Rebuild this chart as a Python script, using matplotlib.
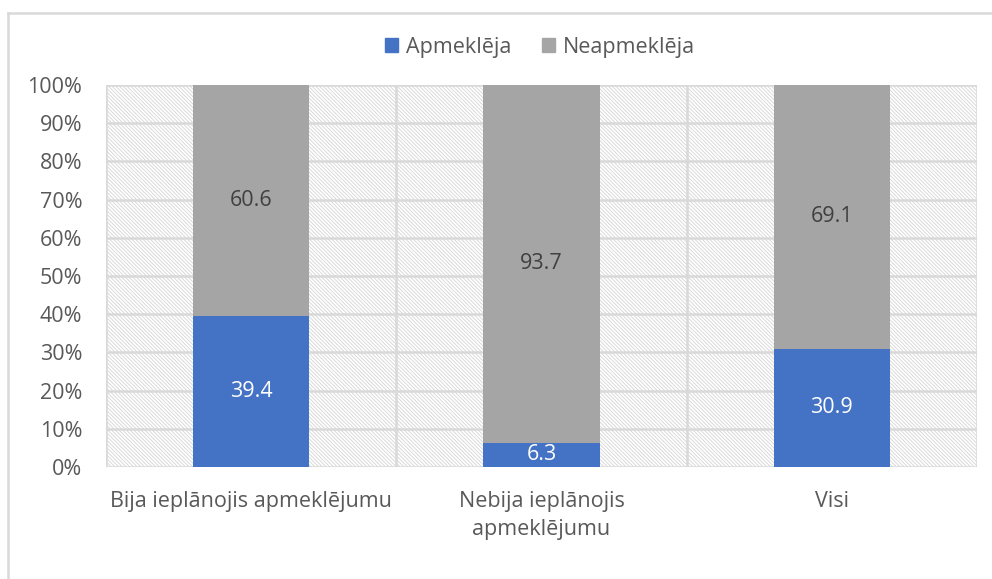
import matplotlib
matplotlib.use("Agg")
import matplotlib.pyplot as plt
from matplotlib.patches import Rectangle
from matplotlib.lines import Line2D
import numpy as np

categories = ["Bija ieplānojis apmeklējumu", "Nebija ieplānojis\napmeklējumu", "Visi"]
apmekleja = [39.4, 6.3, 30.9]
neapmekleja = [60.6, 93.7, 69.1]
series_names = ["Apmeklēja", "Neapmeklēja"]
yticks = [0, 10, 20, 30, 40, 50, 60, 70, 80, 90, 100]

plt.rcParams['font.family'] = ['Open Sans', 'DejaVu Sans']
plt.rcParams['hatch.linewidth'] = 0.6
plt.rcParams['hatch.color'] = '#d4d4d4'

BLUE = '#4472C4'
GRAY = '#A5A5A5'
TXT = '#595959'
GRID = '#d9d9d9'
FS = 15.5

fig = plt.figure(figsize=(9.92, 5.79), dpi=100)
ax = fig.add_axes([106/992, 1-467/579, (977-106)/992, (467-85)/579])

x = np.arange(len(categories))
ax.set_xlim(-0.5, len(categories) - 0.5)
ax.set_ylim(0, 100)

# hatched background
bg = Rectangle((0, 0), 1, 1, transform=ax.transAxes, facecolor='white',
               edgecolor='#d4d4d4', hatch='\\' * 9, linewidth=0, zorder=0)
ax.add_patch(bg)

# gridlines
for yv in yticks:
    ax.axhline(yv, color=GRID, lw=1.8, zorder=1)
for xv in np.arange(-0.5, len(categories), 1.0):
    ax.axvline(xv, color=GRID, lw=1.8, zorder=1)

w = 0.4
ax.bar(x, apmekleja, w, color=BLUE, zorder=3, label=series_names[0])
ax.bar(x, neapmekleja, w, bottom=apmekleja, color=GRAY, zorder=3, label=series_names[1])

for i in range(len(categories)):
    ax.text(x[i], apmekleja[i] / 2, f"{apmekleja[i]:.1f}", ha='center', va='center',
            color='white', fontsize=FS, zorder=4)
    ax.text(x[i], apmekleja[i] + neapmekleja[i] / 2, f"{neapmekleja[i]:.1f}", ha='center',
            va='center', color='#404040', fontsize=FS, zorder=4)

for s in ax.spines.values():
    s.set_visible(False)

ax.set_yticks(yticks)
ax.set_yticklabels([f"{v}%" for v in yticks], color=TXT, fontsize=FS)
ax.set_xticks(x)
ax.set_xticklabels(categories, color=TXT, fontsize=FS, linespacing=1.45)
ax.tick_params(axis='y', length=0, pad=17)
ax.tick_params(axis='x', length=0, pad=17)

handles = [Rectangle((0, 0), 1, 1, color=BLUE), Rectangle((0, 0), 1, 1, color=GRAY)]
leg = fig.legend(handles, series_names, loc='center', bbox_to_anchor=(540/992, 1-47/579),
                 ncol=2, frameon=False, fontsize=FS, handlelength=0.6, handleheight=0.6,
                 handletextpad=0.4, columnspacing=1.4)
for t in leg.get_texts():
    t.set_color(TXT)

# outer chart frame
fig.add_artist(Line2D([8/992, 8/992], [0, 1-13/579], transform=fig.transFigure, color=GRID, lw=1.8))
fig.add_artist(Line2D([8/992, 1], [1-13/579, 1-13/579], transform=fig.transFigure, color=GRID, lw=1.8))

fig.savefig('out.png', dpi=100)
